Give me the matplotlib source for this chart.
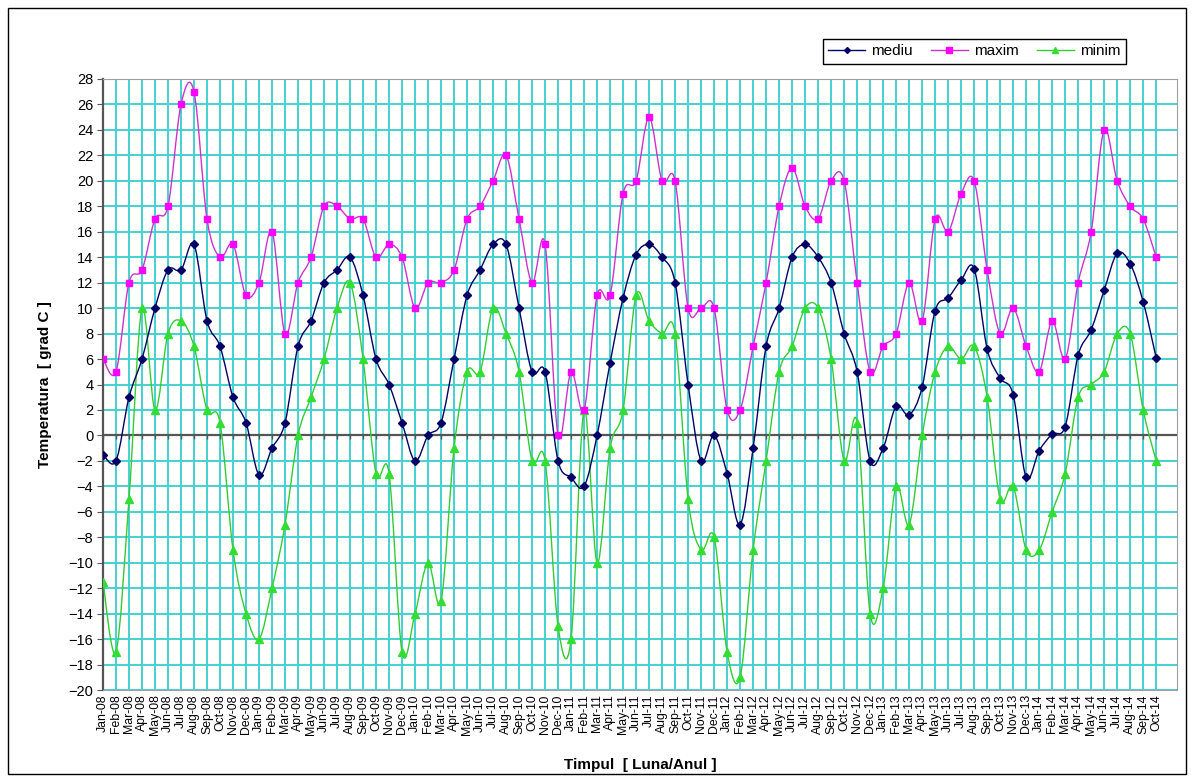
import numpy as np
import matplotlib
matplotlib.use("Agg")
import matplotlib.pyplot as plt
from matplotlib.patches import Rectangle, PathPatch
from matplotlib.path import Path
from matplotlib.lines import Line2D

plt.rcParams['font.family'] = ['Liberation Sans', 'DejaVu Sans']

# date lunare Jan-08 .. Oct-14
luni = ['Jan', 'Feb', 'Mar', 'Apr', 'May', 'Jun', 'Jul', 'Aug', 'Sep', 'Oct', 'Nov', 'Dec']
ani = ['08', '09', '10', '11', '12', '13', '14']
etichete = [f'{l}-{a}' for a in ani for l in luni][:82]

mediu = [-1.5, -2, 3, 6, 10, 13, 13, 15, 9, 7, 3, 1,
         -3.1, -1, 1, 7, 9, 12, 13, 14, 11, 6, 4, 1,
         -2, 0, 1, 6, 11, 13, 15, 15, 10, 5, 5, -2,
         -3.3, -4, 0, 5.7, 10.8, 14.2, 15, 14, 12, 4, -2, 0,
         -3, -7, -1, 7, 10, 14, 15, 14, 12, 8, 5, -2,
         -1, 2.3, 1.6, 3.8, 9.8, 10.8, 12.2, 13.1, 6.8, 4.5, 3.2, -3.3,
         -1.2, 0.1, 0.7, 6.3, 8.3, 11.4, 14.3, 13.5, 10.5, 6.1]
maxim = [6, 5, 12, 13, 17, 18, 26, 27, 17, 14, 15, 11,
         12, 16, 8, 12, 14, 18, 18, 17, 17, 14, 15, 14,
         10, 12, 12, 13, 17, 18, 20, 22, 17, 12, 15, 0,
         5, 2, 11, 11, 19, 20, 25, 20, 20, 10, 10, 10,
         2, 2, 7, 12, 18, 21, 18, 17, 20, 20, 12, 5,
         7, 8, 12, 9, 17, 16, 19, 20, 13, 8, 10, 7,
         5, 9, 6, 12, 16, 24, 20, 18, 17, 14]
minim = [-11.5, -17, -5, 10, 2, 8, 9, 7, 2, 1, -9, -14,
         -16, -12, -7, 0, 3, 6, 10, 12, 6, -3, -3, -17,
         -14, -10, -13, -1, 5, 5, 10, 8, 5, -2, -2, -15,
         -16, 2, -10, -1, 2, 11, 9, 8, 8, -5, -9, -8,
         -17, -19, -9, -2, 5, 7, 10, 10, 6, -2, 1, -14,
         -12, -4, -7, 0, 5, 7, 6, 7, 3, -5, -4, -9,
         -9, -6, -3, 3, 4, 5, 8, 8, 2, -2]

x = np.arange(len(etichete))


def linie_netezita(ax, xs, ys, culoare, z):
    """linie 'smoothed' ca in Excel (bezier prin puncte)"""
    p = np.column_stack([xs, np.asarray(ys, dtype=float)])
    verts = [p[0]]
    codes = [Path.MOVETO]
    n = len(p)
    for i in range(n - 1):
        p0 = p[i - 1] if i > 0 else p[i]
        p3 = p[i + 2] if i + 2 < n else p[i + 1]
        c1 = p[i] + (p[i + 1] - p0) / 6
        c2 = p[i + 1] - (p3 - p[i]) / 6
        verts += [c1, c2, p[i + 1]]
        codes += [Path.CURVE4] * 3
    ax.add_patch(PathPatch(Path(verts, codes), facecolor='none', edgecolor=culoare,
                           linewidth=1, zorder=z))


fig = plt.figure(figsize=(11.92, 7.82), dpi=100)
ax = fig.add_axes([0.0864, 0.1176, 0.901, 0.7814])

# grila
ax.set_xticks(x)
ax.set_yticks(np.arange(-20, 29, 2))
ax.grid(True, color='#45D0D0', linewidth=1.4)
ax.set_axisbelow(True)

# axa zero cu gradatii
ax.axhline(0, color='#555555', linewidth=1.6, zorder=2)
ax.vlines(x, -0.3, 0, color='#555555', linewidth=1, zorder=2)

serii = [
    ('mediu', mediu, '#000066', '#000066', 'D', 4, 5),
    ('maxim', maxim, '#CC33CC', '#FF00FF', 's', 5, 4),
    ('minim', minim, '#33CC33', '#33DD33', '^', 5.5, 3),
]
handles = []
for nume, vals, c_lin, c_mark, mk, ms, z in serii:
    linie_netezita(ax, x, vals, c_lin, z)
    ax.plot(x, vals, linestyle='none', marker=mk, markersize=ms,
            markerfacecolor=c_mark, markeredgecolor=c_mark, zorder=z)
    handles.append(Line2D([], [], color=c_lin, linewidth=1, marker=mk, markersize=ms - 1,
                          markerfacecolor=c_mark, markeredgecolor=c_mark, label=nume))

ax.set_xlim(0, 82.6)
ax.set_ylim(-20, 28)
ax.set_xticklabels(etichete, rotation=90, fontsize=8.8)
ax.tick_params(axis='x', length=0, pad=3)
ax.tick_params(axis='y', labelsize=10.5, length=4, color='#555555', pad=3)

for s in ['top', 'right', 'bottom']:
    ax.spines[s].set_color('#A0A0A0')
ax.spines['left'].set_color('#555555')
ax.spines['left'].set_linewidth(1.6)

fig.text(0.038, 0.508, 'Temperatura  [ grad C ]', rotation=90, ha='center', va='center',
         fontsize=11, fontweight='bold')
fig.text(0.537, 0.022, 'Timpul  [ Luna/Anul ]', ha='center', va='center',
         fontsize=11, fontweight='bold')

fig.legend(handles=handles, loc='upper left', bbox_to_anchor=(0.684, 0.96), ncol=3,
           fontsize=11, frameon=True, fancybox=False, edgecolor='black', framealpha=1,
           handlelength=2.4, columnspacing=1.2, handletextpad=0.4, borderpad=0.35)

fig.add_artist(Rectangle((8 / 1192, 8 / 782), 1178 / 1192, 766 / 782, transform=fig.transFigure,
                         fill=False, edgecolor='black', linewidth=1))

fig.savefig('out.png', dpi=100)
